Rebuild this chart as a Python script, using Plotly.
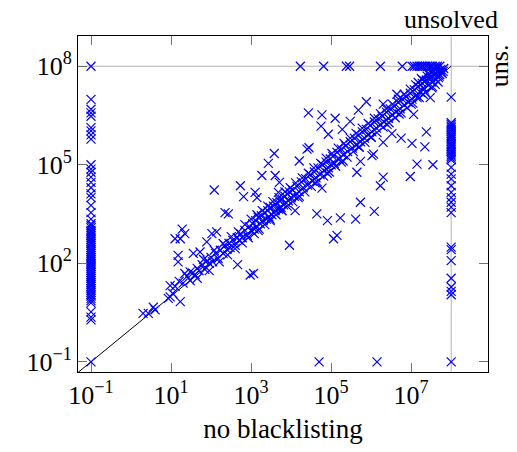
import plotly.graph_objects as go
import math

# ---------------- data ----------------
UNSOLVED = 1e8      # value used for "unsolved" instances
FLOOR = 0.1         # smallest plotted value

# instances solved only by the right-hand solver (x = FLOOR)
left_col_y = [1e8, 9.8e6, 4.9e6, 3.8e6, 3.0e6, 1.35e6, 1.07e6, 8.1e5, 6.0e5,
              1.0e5, 7.4e4, 5.9e4, 4.2e4, 2.9e4, 2.0e4, 1.3e4, 1.0e4, 5800, 3500, 2200,
              1600, 1400, 1200, 1000, 900, 800, 700, 600, 520, 450, 400, 350, 300,
              260, 230, 200, 175, 150, 130, 115, 100, 90, 80, 70, 60, 52, 45, 40, 35,
              30, 26, 23, 20, 17, 15, 13, 11, 10, 8.5, 7.3, 6.2, 3.3, 2.3, 1.9, 0.1]

# instances unsolved without blacklisting (x = UNSOLVED)
right_col_y = [1.15e7, 1.9e6, 1.7e6, 1.5e6, 1.35e6, 1.2e6, 1.05e6, 9e5, 8e5, 7e5,
               6e5, 5.2e5, 4.5e5, 4e5, 3.5e5, 3e5, 2.6e5, 2.3e5, 2e5, 1.8e5, 1.6e5,
               1.4e5, 8.3e4, 5.2e4, 3.7e4, 2.3e4, 1.45e4, 1.0e4, 7200, 5100, 3500,
               310, 260, 120, 35, 19, 14, 11, 0.1]

# instances unsolved with blacklisting (y = UNSOLVED)
top_row_x = [1.7e4, 6.5e4, 2.4e5, 2.9e5, 1.7e6, 6.0e6, 1.05e7, 1.2e7, 1.4e7, 1.6e7,
             1.8e7, 2.0e7, 2.3e7, 2.6e7, 3.0e7, 3.4e7, 4.0e7, 4.5e7, 5.2e7]

# instances at the floor with blacklisting (y = FLOOR)
bottom_row_x = [5e4, 1.4e6]

# points along the diagonal band
band_points = [
    (2.0, 3.0), (2.7, 3.0), (3.6, 4.6), (4.0, 3.8), (8.5, 8.5), (9.5, 9.5), (11, 12),
    (12.6, 20), (16, 28), (9.5, 21), (22, 49),
    (20, 25), (25, 40), (30, 30), (35, 50), (40, 45), (45, 70), (50, 60), (60, 90),
    (70, 65), (80, 120), (90, 100), (100, 150), (110, 110), (130, 200), (150, 140),
    (170, 250), (200, 200), (220, 350), (250, 260), (280, 400), (300, 300), (350, 500),
    (400, 350), (450, 600), (500, 500), (550, 800), (600, 600), (700, 1000), (800, 700),
    (900, 1300),
    (1000, 1000), (1100, 1600), (1200, 1100), (1300, 2000), (1400, 1300), (1500, 2500),
    (1700, 1600), (1800, 2800), (2000, 2000), (2200, 3500), (2400, 2200), (2600, 4000),
    (2800, 2600), (3000, 5000), (3300, 3000), (3600, 5500), (4000, 4000), (4400, 7000),
    (4800, 4500), (5200, 8000), (5600, 5000), (6000, 9000), (6500, 6000), (7000, 11000),
    (7500, 7000), (8000, 13000), (8500, 8000), (9000, 15000), (1e4, 1e4), (1.1e4, 1.7e4),
    (1.2e4, 1.1e4), (1.4e4, 2.2e4), (1.6e4, 1.5e4), (1.8e4, 3e4), (2e4, 2e4),
    (2.3e4, 3.8e4), (2.6e4, 2.4e4), (3e4, 5e4), (3.4e4, 3.2e4), (3.8e4, 6e4),
    (4.2e4, 4e4), (4.7e4, 8e4), (5.3e4, 5e4), (6e4, 1e5), (6.7e4, 6.5e4), (7.5e4, 1.2e5),
    (8.5e4, 8e4), (9.5e4, 1.5e5), (1500, 1000), (3000, 2000), (6000, 4000),
    (1.5e4, 1e4), (4e4, 2.8e4), (8e4, 5.5e4),
    (1e5, 1e5), (1.1e5, 1.8e5), (1.2e5, 1.1e5), (1.4e5, 2.4e5), (1.6e5, 1.5e5),
    (1.8e5, 3e5), (2e5, 2e5), (2.3e5, 3.8e5), (2.6e5, 2.5e5), (3e5, 5e5), (3.4e5, 3.2e5),
    (3.8e5, 6.5e5), (4.3e5, 4e5), (4.8e5, 8e5), (5.4e5, 5e5), (6e5, 1e6), (6.8e5, 6.5e5),
    (7.6e5, 1.2e6), (8.5e5, 8e5), (9.5e5, 1.6e6), (1.05e6, 1e6), (1.2e6, 2e6),
    (1.35e6, 1.3e6), (1.5e6, 2.5e6), (1.7e6, 1.6e6), (1.9e6, 3e6), (2.1e6, 2e6),
    (2.4e6, 4e6), (2.7e6, 2.6e6), (3e6, 5e6), (3.4e6, 3.2e6), (3.8e6, 6e6), (4.2e6, 4e6),
    (4.7e6, 8e6), (5.3e6, 5e6), (6e6, 1e7), (6.7e6, 6.5e6), (7.5e6, 1.2e7), (8.5e6, 8e6),
    (9.5e6, 1.5e7), (1.05e7, 1e7), (1.2e7, 1.9e7), (1.35e7, 1.3e7), (1.5e7, 2.4e7),
    (1.7e7, 1.6e7), (1.9e7, 3e7), (2.1e7, 2e7), (2.4e7, 3.8e7), (2.7e7, 2.6e7),
    (3e7, 4.6e7), (3.3e7, 3.3e7), (3.7e7, 5.5e7), (4.1e7, 4e7), (4.6e7, 6.5e7),
    (5e7, 5e7), (5.5e7, 7e7), (6e7, 6e7), (2e5, 1.3e5), (5e5, 3.5e5), (1e6, 7e5),
    (2.5e6, 1.7e6), (5e6, 3.5e6), (1e7, 7e6), (2e7, 1.4e7), (4e7, 2.8e7),
    (2.7e7, 6.3e7), (4.4e7, 8.9e7), (3e7, 4e7), (1.5e7, 3.2e7), (2e7, 2.2e7),
    (3.3e7, 2.2e7), (1.4e7, 1.1e7), (5.2e7, 5.6e7), (6.3e7, 7e7), (2.5e7, 5e7),
    (3.5e7, 7.5e7), (4.8e7, 4.5e7), (5.5e7, 8e7), (4e7, 6e7), (2.2e7, 3.5e7),
    (1.8e7, 4.2e7),
]

# further points spread around the band
band_spread_points = [
    (30, 55), (45, 35), (65, 130), (90, 60), (120, 250), (160, 110), (200, 400),
    (260, 180), (320, 650), (400, 280), (480, 900), (600, 420), (700, 1500), (850, 600),
    (1000, 2200), (1200, 800), (1400, 3000), (1600, 1100), (1900, 4000), (2200, 1500),
    (2600, 5500), (3000, 2200), (3500, 7500), (4200, 3000), (5000, 10000), (5800, 4000),
    (7000, 15000), (8000, 5500), (9500, 20000), (1.1e4, 7500), (1.3e4, 28000),
    (1.6e4, 11000), (1.9e4, 40000), (2.2e4, 15000), (2.7e4, 55000), (3.2e4, 22000),
    (3.7e4, 80000), (4.5e4, 30000), (5.5e4, 1.1e5), (6.5e4, 45000), (7.5e4, 1.6e5),
    (9e4, 60000), (1.05e5, 2.2e5), (1.3e5, 90000), (1.5e5, 3.2e5), (1.8e5, 1.2e5),
    (2.1e5, 4.5e5), (2.5e5, 1.7e5), (3e5, 6.5e5), (3.6e5, 2.5e5), (4.2e5, 9e5),
    (5e5, 3.4e5), (6e5, 1.3e6), (7e5, 4.8e5), (8.5e5, 1.8e6), (1e6, 6.8e5),
    (1.2e6, 2.6e6), (1.4e6, 9.5e5), (1.7e6, 3.6e6), (2e6, 1.4e6), (2.4e6, 5e6),
    (2.8e6, 1.9e6), (3.4e6, 7e6), (4e6, 2.7e6), (4.8e6, 1e7), (5.6e6, 3.8e6),
    (6.7e6, 1.4e7), (8e6, 5.4e6), (9.5e6, 2e7), (1.1e7, 7.5e6), (1.3e7, 2.7e7),
    (1.6e7, 1.1e7), (1.9e7, 3.9e7), (2.3e7, 1.6e7), (2.8e7, 5.5e7), (3.4e7, 2.4e7),
    (4e7, 7.8e7), (4.7e7, 3.3e7), (5.6e7, 6.5e7), (6.5e7, 8.5e7),
]

# points clearly above the diagonal (slower with blacklisting)
above_points = [
    (15, 110), (15, 175), (12.6, 560), (19, 1100), (22, 800), (17, 560), (36, 200),
    (53, 220), (78, 450), (105, 800), (138, 900), (224, 3500), (270, 3200), (120, 17000),
    (540, 23000), (650, 10700), (1260, 14500), (1400, 10000), (1860, 47000),
    (2700, 110000), (3800, 220000), (4000, 47000), (5100, 29000), (4800, 14500),
    (2.7e4, 3.8e6), (5.9e4, 3.3e6), (1.26e5, 2.6e6), (5.6e4, 1.5e6), (1.6e4, 1.3e5),
    (2.8e4, 3.3e5), (2.5e4, 3e5), (8.5e4, 8.5e5), (1.9e5, 1.2e6), (3e5, 2.1e6),
    (4.8e5, 4.6e6), (7.6e5, 8.3e6), (2e6, 7e6), (4.4e6, 1.4e7),
]

# points clearly below the diagonal (faster with blacklisting)
below_points = [
    (17, 6.8), (460, 91), (1150, 49), (950, 44), (12600, 4000), (9100, 355),
    (4.4e4, 3200), (8.1e4, 2000), (1.7e5, 2400), (4.1e5, 2200), (5.4e5, 7200),
    (1.2e6, 3800), (1.4e5, 710), (1.15e5, 560), (5.9e4, 1.95e4), (4.4e5, 5.9e4),
    (1.7e6, 2.3e4), (2e6, 4.2e4), (9.5e6, 4.4e4), (1.4e7, 1.05e5), (3.5e7, 1e5),
    (1.05e6, 1.9e5), (5.4e5, 1.26e5), (1.15e6, 2.1e5), (2e6, 4.8e5), (3.3e6, 8.9e5),
    (5.6e6, 6.5e5), (1.05e7, 4.5e5), (2.2e7, 3.5e5), (2.4e7, 1e6), (1.15e7, 3.4e6),
    (3e7, 1.1e7),
]

x_tick_vals = [0.1, 10, 1e3, 1e5, 1e7]
x_tick_text = ["10<sup>−1</sup>", "10<sup>1</sup>", "10<sup>3</sup>", "10<sup>5</sup>", "10<sup>7</sup>"]
y_tick_vals = [0.1, 1e2, 1e5, 1e8]
y_tick_text = ["10<sup>−1</sup>", "10<sup>2</sup>", "10<sup>5</sup>", "10<sup>8</sup>"]

x_range_log = [-1.325, 8.92]
y_range_log = [-1.31, 8.92]

# ---------------- assemble ----------------
xs, ys = [], []
for y in left_col_y:
    xs.append(FLOOR); ys.append(y)
for y in right_col_y:
    xs.append(UNSOLVED); ys.append(y)
for x in top_row_x:
    xs.append(x); ys.append(UNSOLVED)
for x in bottom_row_x:
    xs.append(x); ys.append(FLOOR)
for group in (band_points, band_spread_points, above_points, below_points):
    for x, y in group:
        xs.append(x); ys.append(y)

lo = 10 ** min(x_range_log[0], y_range_log[0]) / 10
hi = 10 ** max(x_range_log[1], y_range_log[1]) * 10

FONT = "Liberation Serif"
FS = 26
fig = go.Figure()
# "unsolved" grid lines
fig.add_trace(go.Scatter(x=[UNSOLVED, UNSOLVED], y=[lo, hi], mode="lines",
                         line=dict(color="#b3b3b3", width=1), hoverinfo="skip", showlegend=False))
fig.add_trace(go.Scatter(x=[lo, hi], y=[UNSOLVED, UNSOLVED], mode="lines",
                         line=dict(color="#b3b3b3", width=1), hoverinfo="skip", showlegend=False))
# diagonal y = x (up to the unsolved limit)
fig.add_trace(go.Scatter(x=[lo, UNSOLVED], y=[lo, UNSOLVED], mode="lines",
                         line=dict(color="black", width=1), hoverinfo="skip", showlegend=False))
fig.add_trace(go.Scatter(x=xs, y=ys, mode="markers", showlegend=False,
                         marker=dict(symbol="x-thin", size=9, color="#0000ff",
                                     line=dict(color="#0000ff", width=1.2))))

axis_common = dict(type="log", showline=True, linecolor="black", linewidth=1, mirror="ticks",
                   ticks="inside", ticklen=9, tickcolor="#707070", tickwidth=1,
                   showgrid=False, zeroline=False, automargin=False,
                   tickfont=dict(family=FONT, size=FS, color="black"))

# the page body adds an 8px margin, so the figure is sized to fit the window
fig.update_layout(
    width=501, height=436,
    margin=dict(l=70, r=21, t=28, b=72),
    paper_bgcolor="white", plot_bgcolor="white",
    font=dict(family=FONT, size=FS, color="black"),
    xaxis=dict(range=x_range_log, tickmode="array", tickvals=x_tick_vals, ticktext=x_tick_text,
               title=dict(text="no blacklisting", font=dict(family=FONT, size=27), standoff=11),
               **axis_common),
    yaxis=dict(range=y_range_log, tickmode="array", tickvals=y_tick_vals, ticktext=y_tick_text,
               **axis_common),
    annotations=[
        dict(text="unsolved", x=math.log10(UNSOLVED), xref="x", y=1, yref="paper",
             xanchor="center", yanchor="bottom", yshift=0, showarrow=False,
             font=dict(family=FONT, size=FS, color="black")),
        dict(text="uns.", x=1, xref="paper", y=math.log10(UNSOLVED), yref="y",
             xanchor="center", yanchor="middle", xshift=11, borderpad=0,
             textangle=-90, showarrow=False,
             font=dict(family=FONT, size=FS, color="black")),
    ],
)

fig.write_html("out.html")
